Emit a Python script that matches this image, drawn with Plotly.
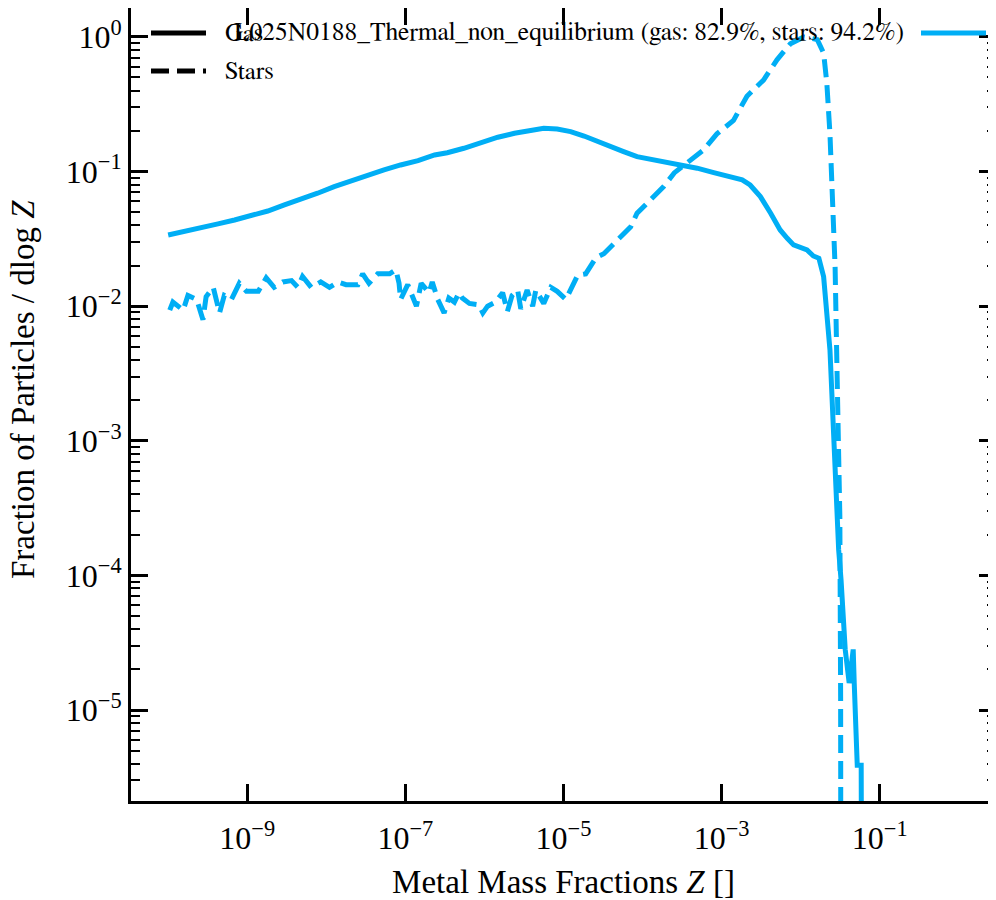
import numpy as np
import plotly.graph_objects as go

# log10 of metal mass fraction Z and log10 of fraction / dlogZ
gas_logz = [-10.00, -9.79, -9.58, -9.37, -9.16, -8.95, -8.74, -8.53, -8.32, -8.11,
            -7.90, -7.69, -7.48, -7.27, -7.06, -6.84, -6.63, -6.47, -6.26, -6.05,
            -5.83, -5.62, -5.41, -5.25, -5.08, -4.91, -4.74, -4.57, -4.40, -4.24,
            -4.07, -3.90, -3.73, -3.48, -3.31, -3.10, -2.89, -2.74, -2.64, -2.51,
            -2.38, -2.26, -2.17, -2.09, -1.92, -1.84, -1.77, -1.71, -1.63, -1.58,
            -1.52, -1.49, -1.437, -1.387, -1.336, -1.323, -1.285, -1.235, -1.222]
gas_logf = [-1.471, -1.446, -1.421, -1.389, -1.360, -1.330, -1.293, -1.248, -1.206, -1.161,
            -1.112, -1.068, -1.025, -0.988, -0.951, -0.919, -0.877, -0.860, -0.827, -0.785,
            -0.745, -0.716, -0.691, -0.678, -0.684, -0.703, -0.736, -0.778, -0.815, -0.852,
            -0.889, -0.909, -0.926, -0.951, -0.975, -1.008, -1.038, -1.062, -1.100, -1.186,
            -1.310, -1.434, -1.496, -1.545, -1.582, -1.627, -1.644, -1.781, -2.325, -3.068,
            -3.811, -4.03, -4.55, -4.80, -4.55, -4.80, -5.41, -5.41, -8.0]

stars_logz = [-9.98, -9.94, -9.81, -9.75, -9.64, -9.56, -9.52, -9.43, -9.35, -9.29,
              -9.20, -9.10, -9.01, -8.86, -8.76, -8.66, -8.55, -8.44, -8.36, -8.30,
              -8.19, -8.07, -7.96, -7.85, -7.75, -7.60, -7.54, -7.46, -7.35, -7.20,
              -7.12, -7.08, -7.06, -6.97, -6.86, -6.80, -6.70, -6.66, -6.59, -6.51,
              -6.45, -6.38, -6.32, -6.28, -6.19, -6.07, -6.02, -5.96, -5.86, -5.77,
              -5.71, -5.65, -5.58, -5.54, -5.46, -5.39, -5.35, -5.25, -5.16, -5.08,
              -4.97, -4.91, -4.82, -4.72, -4.66, -4.59, -4.49, -4.32, -4.15, -4.07,
              -3.90, -3.73, -3.60, -3.44, -3.23, -3.06, -2.85, -2.68, -2.47, -2.30,
              -2.13, -1.96, -1.79, -1.71, -1.67, -1.63, -1.59, -1.565, -1.54, -1.505,
              -1.495, -1.49]
stars_logf = [-2.03, -1.97, -2.03, -1.92, -1.95, -2.10, -1.93, -1.86, -2.05, -1.92,
              -1.95, -1.83, -1.89, -1.89, -1.79, -1.86, -1.82, -1.81, -1.86, -1.78,
              -1.86, -1.82, -1.86, -1.82, -1.84, -1.84, -1.76, -1.83, -1.76, -1.76,
              -1.73, -1.83, -1.95, -1.84, -2.00, -1.83, -1.90, -1.82, -1.95, -2.05,
              -1.94, -1.97, -1.90, -1.94, -1.98, -1.99, -2.05, -2.00, -1.97, -1.90,
              -2.04, -1.92, -1.88, -2.02, -1.88, -2.00, -1.88, -1.98, -1.86, -1.89,
              -1.95, -1.88, -1.77, -1.76, -1.70, -1.64, -1.61, -1.51, -1.41, -1.31,
              -1.21, -1.11, -1.01, -0.94, -0.84, -0.72, -0.62, -0.44, -0.32, -0.17,
              -0.05, 0.00, -0.02, -0.12, -0.34, -0.72, -1.21, -1.71, -2.50, -3.56,
              -4.90, -8.0]

run_label = "L025N0188_Thermal_non_equilibrium (gas: 82.9%, stars: 94.2%)"
x_ticks = [-9, -7, -5, -3, -1]
y_ticks = [0, -1, -2, -3, -4, -5]

blue = "#00AEF5"
font = "Nimbus Roman"
legend_font = "FreeSerif"

fig = go.Figure()
fig.add_trace(go.Scatter(x=10.0 ** np.array(gas_logz), y=10.0 ** np.array(gas_logf),
                         mode="lines", line=dict(color=blue, width=5), name="Gas"))
fig.add_trace(go.Scatter(x=10.0 ** np.array(stars_logz), y=10.0 ** np.array(stars_logf),
                         mode="lines", line=dict(color=blue, width=5, dash="18px,8px"),
                         name="Stars"))

def sup(e):
    return "10<sup>" + str(e).replace("-", "\u2212") + "</sup>"

# minor ticks on the y axis (2..9 per decade)
y_minor = [m * 10.0 ** d for d in range(-6, 1) for m in range(2, 10)]

axis_common = dict(showline=True, linewidth=3, linecolor="black", mirror="allticks",
                   ticks="inside", ticklen=17, tickwidth=2.5, tickcolor="black",
                   showgrid=False, zeroline=False, automargin=False,
                   tickfont=dict(family=font, size=32, color="black"))

fig.update_xaxes(type="log", range=[-10.47, 0.47],
                 tickvals=[10.0 ** e for e in x_ticks], ticktext=[sup(e) for e in x_ticks],
                 ticklabelstandoff=7,
                 title=dict(text="Metal Mass Fractions <i>Z</i> []", standoff=17,
                            font=dict(family=font, size=33, color="black")),
                 **axis_common)
fig.update_yaxes(type="log", range=[-5.676, 0.215],
                 tickvals=[10.0 ** e for e in y_ticks], ticktext=[sup(e) for e in y_ticks],
                 minor=dict(tickvals=y_minor, ticks="inside", ticklen=9, tickwidth=2,
                            tickcolor="black", showgrid=False),
                 **axis_common)

# legend and y title placed by hand to match the matplotlib layout
x0p, y0p, pw, ph = 130.0, 8.0, 865.0, 793.0
def px(x):
    return (x - x0p) / pw
def py(y):
    return 1 - (y - y0p) / ph

shapes = [
    dict(type="line", xref="paper", yref="paper", x0=px(150), x1=px(205), y0=py(33), y1=py(33),
         line=dict(color="black", width=5)),
    dict(type="line", xref="paper", yref="paper", x0=px(150), x1=px(205), y0=py(71), y1=py(71),
         line=dict(color="black", width=5, dash="18px,8px")),
    dict(type="line", xref="paper", yref="paper", x0=px(920), x1=px(985), y0=py(33), y1=py(33),
         line=dict(color=blue, width=5)),
]
annotations = [
    dict(text="Gas", x=px(222), y=py(33), xref="paper", yref="paper", xanchor="left",
         yanchor="middle", showarrow=False, font=dict(family=legend_font, size=25, color="black")),
    dict(text="Stars", x=px(222), y=py(71), xref="paper", yref="paper", xanchor="left",
         yanchor="middle", showarrow=False, font=dict(family=legend_font, size=25, color="black")),
    dict(text=run_label, x=px(905), y=py(33), xref="paper", yref="paper", xanchor="right",
         yanchor="middle", showarrow=False, font=dict(family=legend_font, size=25.5, color="black")),
    dict(text="Fraction of Particles / dlog <i>Z</i>", x=px(22), y=py(390),
         xref="paper", yref="paper", xanchor="center", yanchor="middle", textangle=-90,
         showarrow=False, font=dict(family=font, size=33, color="black")),
]

fig.update_layout(width=989, height=892, margin=dict(l=123, r=1, t=0, b=99),
                  plot_bgcolor="white", paper_bgcolor="white", showlegend=False,
                  shapes=shapes, annotations=annotations,
                  font=dict(family=font, color="black"))

fig.write_html("out.html")
